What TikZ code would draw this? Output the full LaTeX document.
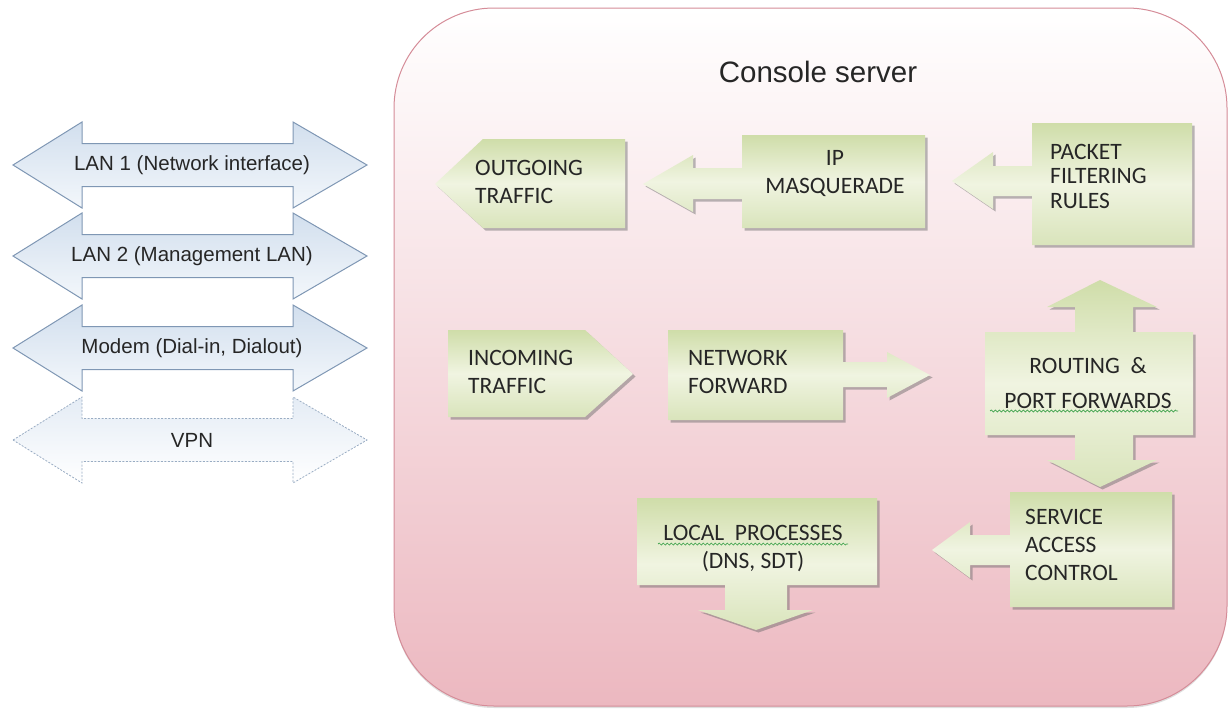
\documentclass[tikz,border=0pt]{standalone}
\usepackage{fontspec}
\setmainfont{Liberation Sans}
\newfontfamily\boxfont{Carlito}
\usetikzlibrary{shadows, decorations.pathmorphing}
\definecolor{srvborder}{HTML}{D58C98}
\definecolor{srvbottom}{HTML}{ECB8C0}
\definecolor{lanedge}{HTML}{7F97B4}
\definecolor{lantop}{HTML}{D2DFEE}
\definecolor{lanlow}{HTML}{F3F7FB}
\definecolor{grtop}{HTML}{CFDDA9}
\definecolor{grmid}{HTML}{F0F4E1}
\definecolor{grlow}{HTML}{D9E4BB}
\definecolor{txtgray}{HTML}{262626}
\definecolor{spellgreen}{HTML}{3FA34D}
\tikzset{
  server/.style   = {draw=srvborder, line width=1pt, top color=white, bottom color=srvbottom,
                     drop shadow={shadow xshift=0pt, shadow yshift=-2pt, opacity=0.25}},
  lanarrow/.style = {draw=lanedge, line width=1pt, top color=lantop, bottom color=lanlow},
  vpnarrow/.style = {draw=lanedge!80, line width=0.8pt, dash pattern=on 2pt off 1.5pt,
                     top color=lantop!60, bottom color=white},
  gshape/.style   = {top color=grtop, bottom color=grlow, middle color=grmid,
                     drop shadow={shadow xshift=2.5pt, shadow yshift=-2.5pt, opacity=0.45, fill=black!60}},
  lantext/.style  = {font=\fontsize{20.5}{24}\selectfont, text=txtgray, inner sep=0pt},
  gtext/.style    = {font=\boxfont\fontsize{23.5}{28}\selectfont, text=txtgray, inner sep=0pt,
                     align=left, anchor=north west},
  spell/.style    = {draw=spellgreen, line width=0.7pt, decorate,
                     decoration={snake, amplitude=1pt, segment length=4pt}},
}
% double arrow of the link list: #1 style, #2 centre y
\newcommand{\lanshape}[2]{%
  \path[#1] (13,#2) -- (82,{#2-43}) -- (82,{#2-21.5}) -- (293,{#2-21.5}) -- (293,{#2-43})
    -- (367,#2) -- (293,{#2+43}) -- (293,{#2+21.5}) -- (82,{#2+21.5}) -- (82,{#2+43}) -- cycle;}

\begin{document}
\begin{tikzpicture}[x=1pt, y=-1pt]
  \useasboundingbox (0,0) rectangle (1231,712);
  % console server
  \path[server, rounded corners=100pt] (394,8) rectangle (1227,706);
  \node[font=\fontsize{29.5}{34}\selectfont, text=txtgray] (title) at (818,72) {Console server};
  % links
  \lanshape{lanarrow}{165}
  \lanshape{lanarrow}{256}
  \lanshape{lanarrow}{348}
  \lanshape{vpnarrow}{440}
  \node[lantext] (lan1)  at (192,165) {LAN 1 (Network interface)};
  \node[lantext] (lan2)  at (192,256) {LAN 2 (Management LAN)};
  \node[lantext] (modem) at (192,348) {Modem (Dial-in, Dialout)};
  \node[lantext] (vpn)   at (192,440) {VPN};
  % outgoing row
  \path[gshape] (435,184) -- (483,139) -- (625,139) -- (625,228) -- (483,228) -- cycle;
  \path[gshape] (643,184) -- (693,155) -- (693,168) -- (742,168) -- (742,135) -- (925,135)
    -- (925,228) -- (742,228) -- (742,199) -- (693,199) -- (693,212) -- cycle;
  \path[gshape] (952,181) -- (993,152) -- (993,166) -- (1032,166) -- (1032,123) -- (1192,123)
    -- (1192,245) -- (1032,245) -- (1032,196) -- (993,196) -- (993,209) -- cycle;
  \node[gtext] (outgoing) at (475,160) {OUTGOING\\TRAFFIC};
  \node[gtext, anchor=north, align=center] (ipmasq) at (835,150) {IP\\MASQUERADE};
  \node[gtext, font=\boxfont\fontsize{23.5}{24.5}\selectfont] (filter) at (1050,144) {PACKET\\FILTERING\\RULES};
  % incoming row
  \path[gshape] (448,330) -- (585,330) -- (633,374) -- (585,417) -- (448,417) -- cycle;
  \path[gshape] (668,330) -- (843,330) -- (843,362) -- (887,362) -- (887,352) -- (930,375)
    -- (887,398) -- (887,387) -- (843,387) -- (843,420) -- (668,420) -- cycle;
  \path[gshape] (1100,280) -- (1157,307) -- (1133,307) -- (1133,332) -- (1193,332) -- (1193,435)
    -- (1133,435) -- (1133,460) -- (1157,460) -- (1100,487) -- (1047,460) -- (1075,460)
    -- (1075,435) -- (985,435) -- (985,332) -- (1075,332) -- (1075,307) -- (1047,307) -- cycle;
  \node[gtext] (incoming) at (468,350) {INCOMING\\TRAFFIC};
  \node[gtext] (netfwd) at (688,350) {NETWORK\\FORWARD};
  \node[gtext, anchor=north, align=center, font=\boxfont\fontsize{23.5}{35}\selectfont]
    (routing) at (1088,357) {ROUTING~~\&\\PORT~FORWARDS};
  % local row
  \path[gshape] (637,498) -- (877,498) -- (877,585) -- (787,585) -- (787,610) -- (813,610)
    -- (756,630) -- (698,610) -- (725,610) -- (725,585) -- (637,585) -- cycle;
  \path[gshape] (932,550) -- (970,522) -- (970,535) -- (1010,535) -- (1010,492) -- (1172,492)
    -- (1172,607) -- (1010,607) -- (1010,565) -- (970,565) -- (970,578) -- cycle;
  \node[gtext, anchor=north, align=center] (localp) at (753,525) {LOCAL~~PROCESSES\\(DNS, SDT)};
  \node[gtext] (access) at (1025,509) {SERVICE\\ACCESS\\CONTROL};
  % spelling marks
  \draw[spell] (658,544) -- (848,544);
  \draw[spell] (990,411) -- (1178,411);
\end{tikzpicture}
\end{document}
